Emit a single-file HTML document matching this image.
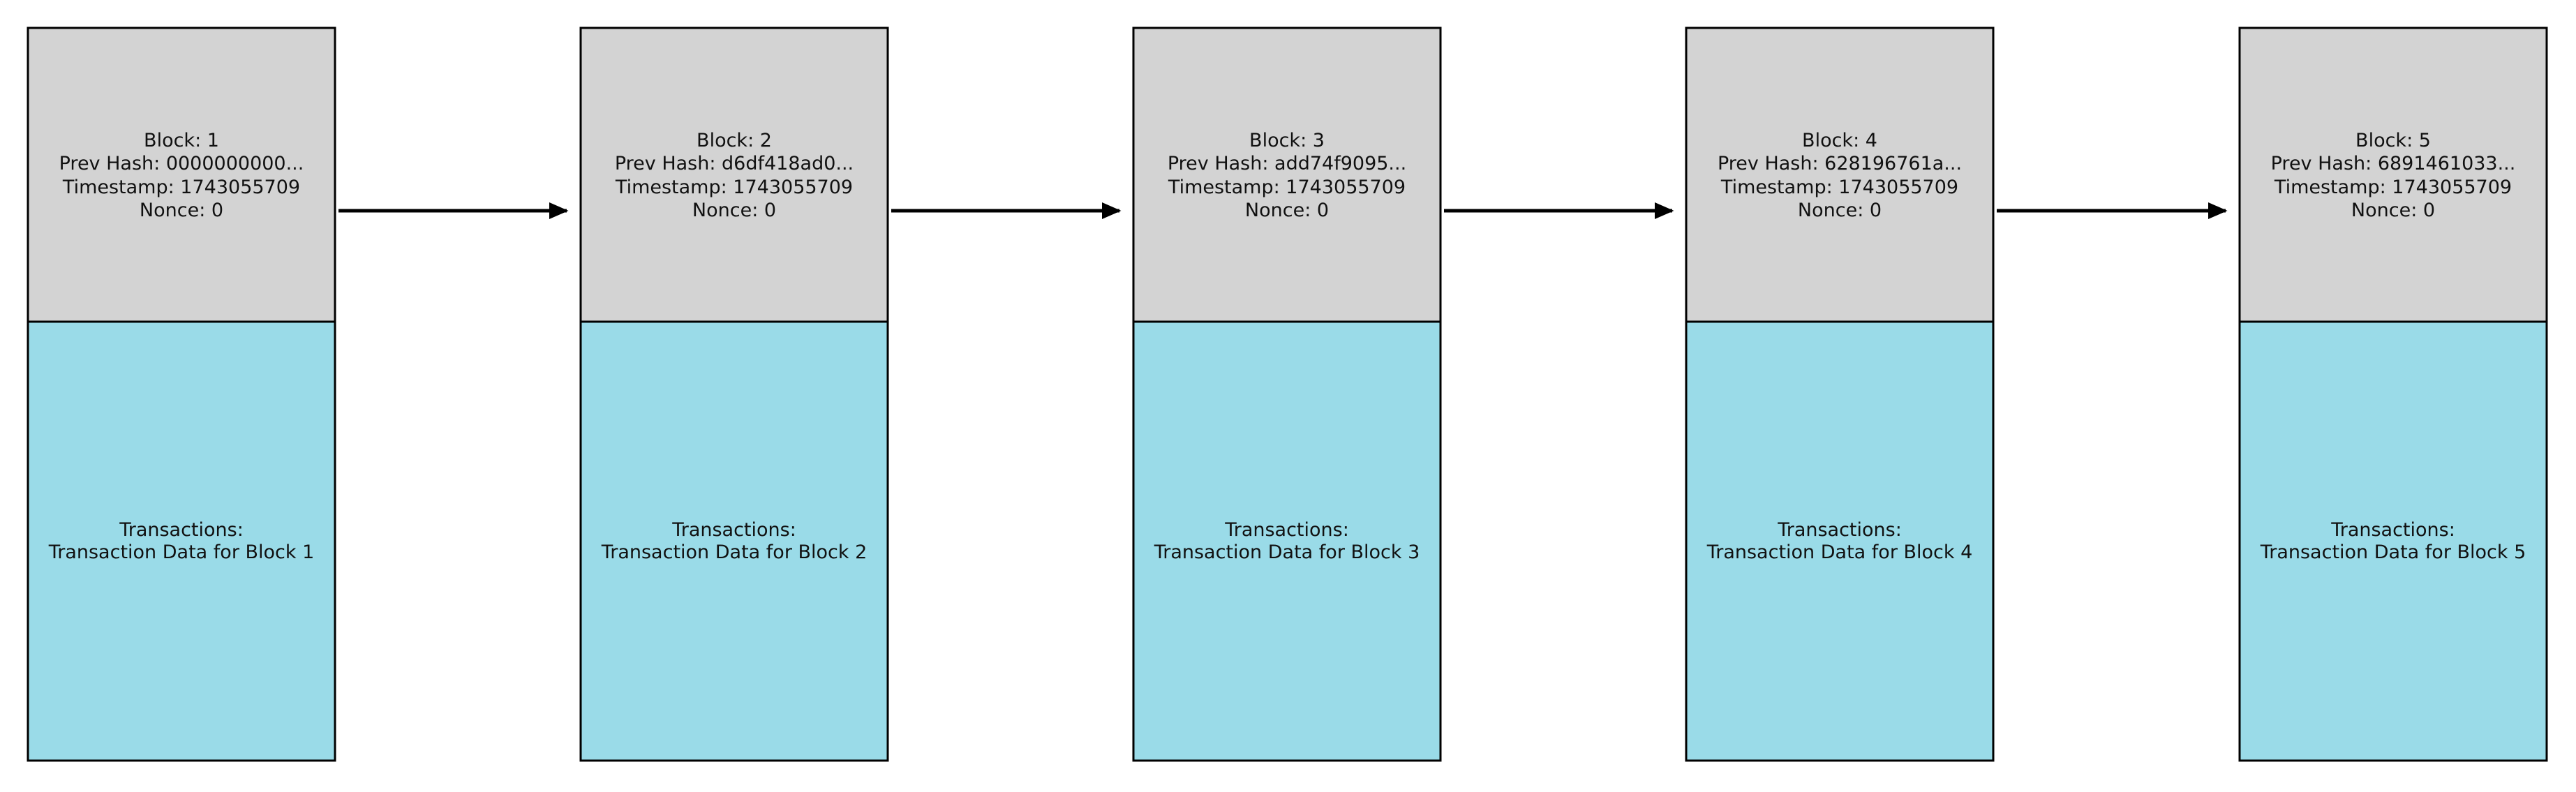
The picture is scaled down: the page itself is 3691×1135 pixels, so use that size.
<!DOCTYPE html>
<html><head><meta charset="utf-8"><style>
html,body{margin:0;padding:0;background:#fff;}
svg{display:block;}
text{font-family:"DejaVu Sans","Liberation Sans",sans-serif;font-size:27px;fill:#111;text-anchor:middle;}
</style></head><body>
<svg width="3691" height="1135" viewBox="0 0 3691 1135" xmlns="http://www.w3.org/2000/svg">
<defs>
<marker id="ah" markerWidth="6" markerHeight="6" refX="5" refY="3" orient="auto" markerUnits="strokeWidth">
<path d="M0,0.6 L5.5,3 L0,5.4 Z" fill="#000"/>
</marker>
</defs>
<g stroke="#000" stroke-width="3">
<rect x="40" y="40" width="440" height="421" fill="#d3d3d3"/>
<rect x="40" y="461" width="440" height="629" fill="#9adbe8"/>
<rect x="832" y="40" width="440" height="421" fill="#d3d3d3"/>
<rect x="832" y="461" width="440" height="629" fill="#9adbe8"/>
<rect x="1624" y="40" width="440" height="421" fill="#d3d3d3"/>
<rect x="1624" y="461" width="440" height="629" fill="#9adbe8"/>
<rect x="2416" y="40" width="440" height="421" fill="#d3d3d3"/>
<rect x="2416" y="461" width="440" height="629" fill="#9adbe8"/>
<rect x="3209" y="40" width="440" height="421" fill="#d3d3d3"/>
<rect x="3209" y="461" width="440" height="629" fill="#9adbe8"/>
</g>
<g stroke="#000" stroke-width="5" marker-end="url(#ah)">
<line x1="485" y1="302" x2="812" y2="302"/>
<line x1="1277" y1="302" x2="1604" y2="302"/>
<line x1="2069" y1="302" x2="2396" y2="302"/>
<line x1="2861" y1="302" x2="3189" y2="302"/>
</g>
<g>
<text x="260" y="210">Block: 1</text><text x="260" y="243">Prev Hash: 0000000000...</text><text x="260" y="277">Timestamp: 1743055709</text><text x="260" y="310">Nonce: 0</text>
<text x="260" y="768">Transactions:</text><text x="260" y="800">Transaction Data for Block 1</text>
<text x="1052" y="210">Block: 2</text><text x="1052" y="243">Prev Hash: d6df418ad0...</text><text x="1052" y="277">Timestamp: 1743055709</text><text x="1052" y="310">Nonce: 0</text>
<text x="1052" y="768">Transactions:</text><text x="1052" y="800">Transaction Data for Block 2</text>
<text x="1844" y="210">Block: 3</text><text x="1844" y="243">Prev Hash: add74f9095...</text><text x="1844" y="277">Timestamp: 1743055709</text><text x="1844" y="310">Nonce: 0</text>
<text x="1844" y="768">Transactions:</text><text x="1844" y="800">Transaction Data for Block 3</text>
<text x="2636" y="210">Block: 4</text><text x="2636" y="243">Prev Hash: 628196761a...</text><text x="2636" y="277">Timestamp: 1743055709</text><text x="2636" y="310">Nonce: 0</text>
<text x="2636" y="768">Transactions:</text><text x="2636" y="800">Transaction Data for Block 4</text>
<text x="3429" y="210">Block: 5</text><text x="3429" y="243">Prev Hash: 6891461033...</text><text x="3429" y="277">Timestamp: 1743055709</text><text x="3429" y="310">Nonce: 0</text>
<text x="3429" y="768">Transactions:</text><text x="3429" y="800">Transaction Data for Block 5</text>
</g>
</svg>
</body></html>
